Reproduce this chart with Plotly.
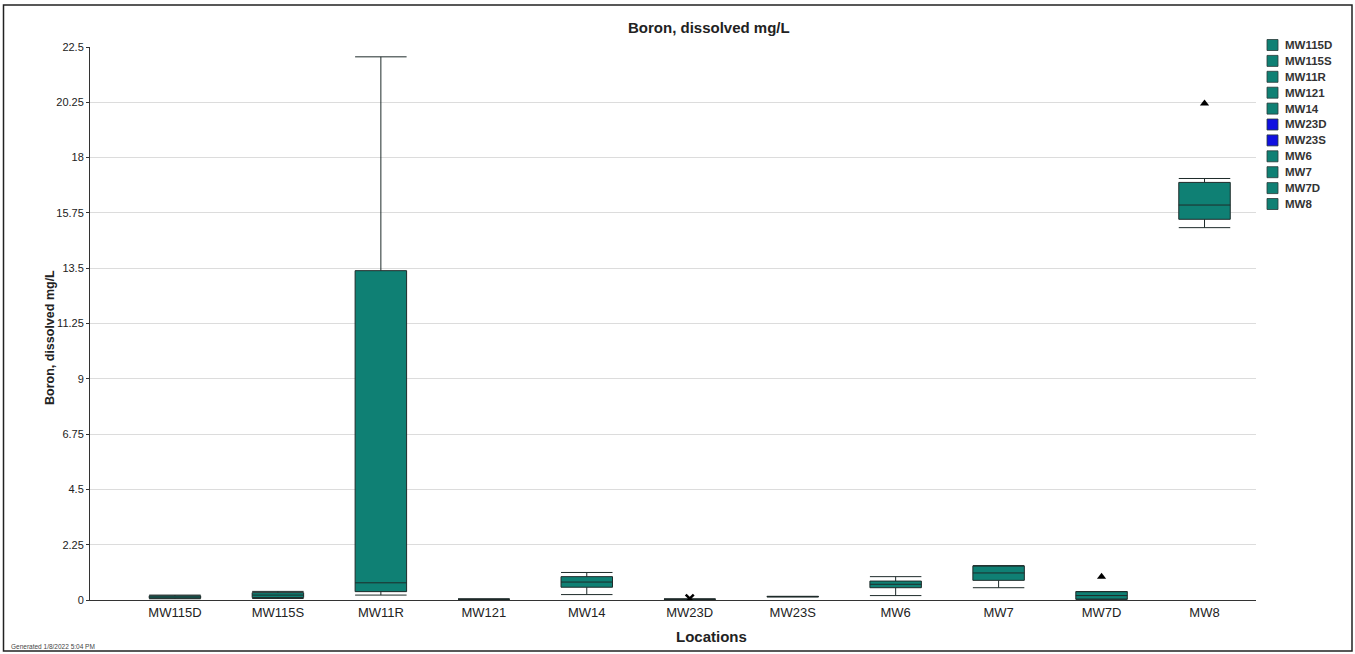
import plotly.graph_objects as go

locations = ["MW115D", "MW115S", "MW11R", "MW121", "MW14", "MW23D", "MW23S", "MW6", "MW7", "MW7D", "MW8"]
lower_whisker = [0.05, 0.06, 0.20, 0.03, 0.22, 0.03, 0.13, 0.18, 0.50, 0.03, 15.15]
q1_vals       = [0.07, 0.10, 0.34, 0.03, 0.52, 0.03, 0.13, 0.50, 0.80, 0.03, 15.49]
median_vals   = [0.12, 0.20, 0.70, 0.03, 0.73, 0.03, 0.14, 0.64, 1.10, 0.18, 16.07]
q3_vals       = [0.17, 0.30, 13.40, 0.03, 0.95, 0.03, 0.14, 0.77, 1.38, 0.34, 16.99]
upper_whisker = [0.20, 0.35, 22.10, 0.04, 1.12, 0.04, 0.15, 0.95, 1.40, 0.34, 17.15]
colors = ["#0f8074", "#0f8074", "#0f8074", "#0f8074", "#0f8074", "#1010e0", "#1010e0",
          "#0f8074", "#0f8074", "#0f8074", "#0f8074"]

outlier_locs = ["MW7D", "MW8"]
outlier_vals = [0.95, 20.2]
nd_locs = ["MW23D"]
nd_vals = [0.06]

y_ticks = [0, 2.25, 4.5, 6.75, 9, 11.25, 13.5, 15.75, 18, 20.25, 22.5]
y_ticktext = ["0", "2.25", "4.5", "6.75", "9", "11.25", "13.5", "15.75", "18", "20.25", "22.5"]

FONT = "Liberation Sans, Arial, sans-serif"

W, H = 1355, 654
# plot area in page pixels
PL, PR, PT, PB = 90, 1256, 47, 600
PW, PH = PR - PL, PB - PT


def px_x(px):
    return (px - PL) / PW


def px_y(py):
    return (PB - py) / PH


fig = go.Figure()
for i, loc in enumerate(locations):
    fig.add_trace(go.Box(
        x=[loc], name=loc,
        q1=[q1_vals[i]], median=[median_vals[i]], q3=[q3_vals[i]],
        lowerfence=[lower_whisker[i]], upperfence=[upper_whisker[i]],
        fillcolor=colors[i],
        line=dict(color="#1e2b2a", width=1),
        width=0.5, whiskerwidth=1,
        boxpoints=False, hoverinfo="skip", showlegend=False,
    ))

fig.add_trace(go.Scatter(
    x=outlier_locs, y=outlier_vals, mode="markers",
    marker=dict(symbol="triangle-up", size=8, color="black"),
    showlegend=False, hoverinfo="skip",
))
fig.add_trace(go.Scatter(
    x=nd_locs, y=nd_vals, mode="markers",
    marker=dict(symbol="x-thin", size=8, color="black", line=dict(width=2.5, color="black")),
    showlegend=False, hoverinfo="skip",
))

annotations = [
    dict(text="<b>Boron, dissolved mg/L</b>", xref="paper", yref="paper",
         x=px_x(709), y=px_y(27), xanchor="center", yanchor="middle", showarrow=False,
         font=dict(family=FONT, size=15, color="#222222")),
    dict(text="<b>Boron, dissolved mg/L</b>", xref="paper", yref="paper",
         x=px_x(50), y=px_y(338), xanchor="center", yanchor="middle", showarrow=False, textangle=-90,
         font=dict(family=FONT, size=12.5, color="#222222")),
    dict(text="<b>Locations</b>", xref="paper", yref="paper",
         x=px_x(711), y=px_y(636), xanchor="center", yanchor="middle", showarrow=False,
         font=dict(family=FONT, size=15, color="#222222")),
    dict(text="Generated 1/8/2022 5:04 PM", xref="paper", yref="paper",
         x=px_x(9), y=px_y(646), xanchor="left", yanchor="middle", showarrow=False,
         font=dict(family=FONT, size=6.5, color="#444444")),
]

shapes = [
    dict(type="rect", xref="paper", yref="paper",
         x0=px_x(3.5), x1=px_x(1352), y0=px_y(651), y1=px_y(5),
         line=dict(color="#222222", width=1.5), fillcolor="rgba(0,0,0,0)", layer="below"),
]

# manual legend (compact spacing like the reference)
for i, loc in enumerate(locations):
    cy = 45 + i * 15.9
    shapes.append(dict(
        type="rect", xref="paper", yref="paper",
        xsizemode="pixel", ysizemode="pixel",
        xanchor=px_x(1272.5), yanchor=px_y(cy),
        x0=-5.5, x1=5.5, y0=-5.5, y1=5.5,
        fillcolor=colors[i], line=dict(color="#2a3a38", width=0.8),
    ))
    annotations.append(dict(
        text="<b>" + loc + "</b>", xref="paper", yref="paper",
        x=px_x(1283), y=px_y(cy), xanchor="left", yanchor="middle", showarrow=False,
        font=dict(family=FONT, size=11.5, color="#333333"),
    ))

fig.update_layout(
    width=W, height=H,
    margin=dict(l=PL, r=W - PR, t=PT, b=H - PB),
    paper_bgcolor="white", plot_bgcolor="white",
    font=dict(family=FONT, size=11, color="#222222"),
    showlegend=False,
    boxmode="overlay",
    xaxis=dict(
        type="category", categoryorder="array", categoryarray=locations,
        range=[-0.825, 10.5],
        showline=True, linecolor="#333333", linewidth=1,
        showgrid=False, ticks="",
        tickfont=dict(family=FONT, size=13, color="#222222"),
        fixedrange=True,
    ),
    yaxis=dict(
        range=[0, 22.5],
        tickvals=y_ticks, ticktext=y_ticktext,
        showline=True, linecolor="#333333", linewidth=1,
        showgrid=True, gridcolor="#dcdcdc", gridwidth=1,
        zeroline=False,
        ticks="outside", ticklen=3, tickcolor="#333333",
        tickfont=dict(family=FONT, size=11, color="#222222"),
        fixedrange=True,
    ),
    annotations=annotations,
    shapes=shapes,
)

fig.write_html("out.html", config={"displayModeBar": False},
               post_script="document.body.style.margin='0px';")
